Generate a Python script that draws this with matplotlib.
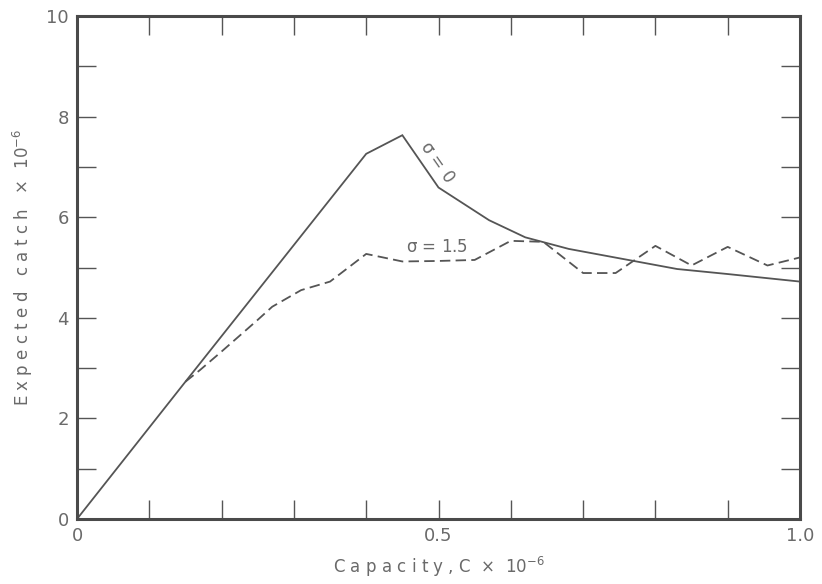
import matplotlib
matplotlib.use("Agg")
import matplotlib.pyplot as plt
from matplotlib.ticker import MultipleLocator

# Data
x_sigma0 = [0.0, 0.15, 0.40, 0.45, 0.50, 0.57, 0.62, 0.68, 0.83, 0.90, 1.00]
y_sigma0 = [0.0, 2.73, 7.26, 7.63, 6.59, 5.94, 5.60, 5.37, 4.97, 4.87, 4.72]

x_sigma15 = [0.15, 0.17, 0.20, 0.25, 0.27, 0.31, 0.35, 0.40, 0.45, 0.50, 0.55,
             0.60, 0.645, 0.70, 0.745, 0.80, 0.85, 0.90, 0.955, 1.00]
y_sigma15 = [2.73, 2.96, 3.33, 3.96, 4.22, 4.55, 4.72, 5.27, 5.12, 5.13, 5.15,
             5.53, 5.51, 4.89, 4.89, 5.43, 5.04, 5.41, 5.04, 5.20]

x_major = [0, 0.5, 1.0]
x_major_labels = ["0", "0.5", "1.0"]
y_major = [0, 2, 4, 6, 8, 10]
y_major_labels = ["0", "2", "4", "6", "8", "10"]

plt.rcParams['lines.scale_dashes'] = False
plt.rcParams['font.family'] = ['DejaVu Sans']
plt.rcParams['mathtext.default'] = 'regular'

line_col = "#555555"
spine_col = "#4a4a4a"
text_col = "#6a6a6a"

fig = plt.figure(figsize=(8.22, 5.84), dpi=100)
ax = fig.add_axes([77/822, 65/584, 723/822, 503/584])

ax.plot(x_sigma0, y_sigma0, color=line_col, lw=1.3, solid_joinstyle='miter')
ax.plot(x_sigma15, y_sigma15, color=line_col, lw=1.3, dashes=(7.5, 3.8))

ax.set_xlim(0, 1.0)
ax.set_ylim(0, 10)

ax.set_xticks(x_major)
ax.set_xticklabels(x_major_labels)
ax.set_yticks(y_major)
ax.set_yticklabels(y_major_labels)
ax.xaxis.set_minor_locator(MultipleLocator(0.1))
ax.yaxis.set_minor_locator(MultipleLocator(1))

for which in ("major", "minor"):
    ax.tick_params(axis="both", which=which, direction="in", length=13.5,
                   width=1.0, color=line_col, top=True, right=True)
ax.tick_params(axis="both", which="major", labelsize=13, labelcolor=text_col,
               pad=6)

for s in ax.spines.values():
    s.set_linewidth(2.2)
    s.set_color(spine_col)

ax.set_xlabel(r"C a p a c i t y , C  $\times$  10$^{-6}$", fontsize=12,
              color=text_col, labelpad=7)
ax.set_ylabel(r"E x p e c t e d   c a t c h   $\times$  10$^{-6}$", fontsize=12,
              color=text_col, labelpad=8)

ax.text(0.498, 7.1, r"$\sigma$ = 0", rotation=-55, ha="center", va="center",
        fontsize=12, color=text_col)
ax.text(0.498, 5.40, r"$\sigma$ = 1.5", ha="center", va="center",
        fontsize=12, color=text_col)

fig.savefig("out.png", dpi=100)
